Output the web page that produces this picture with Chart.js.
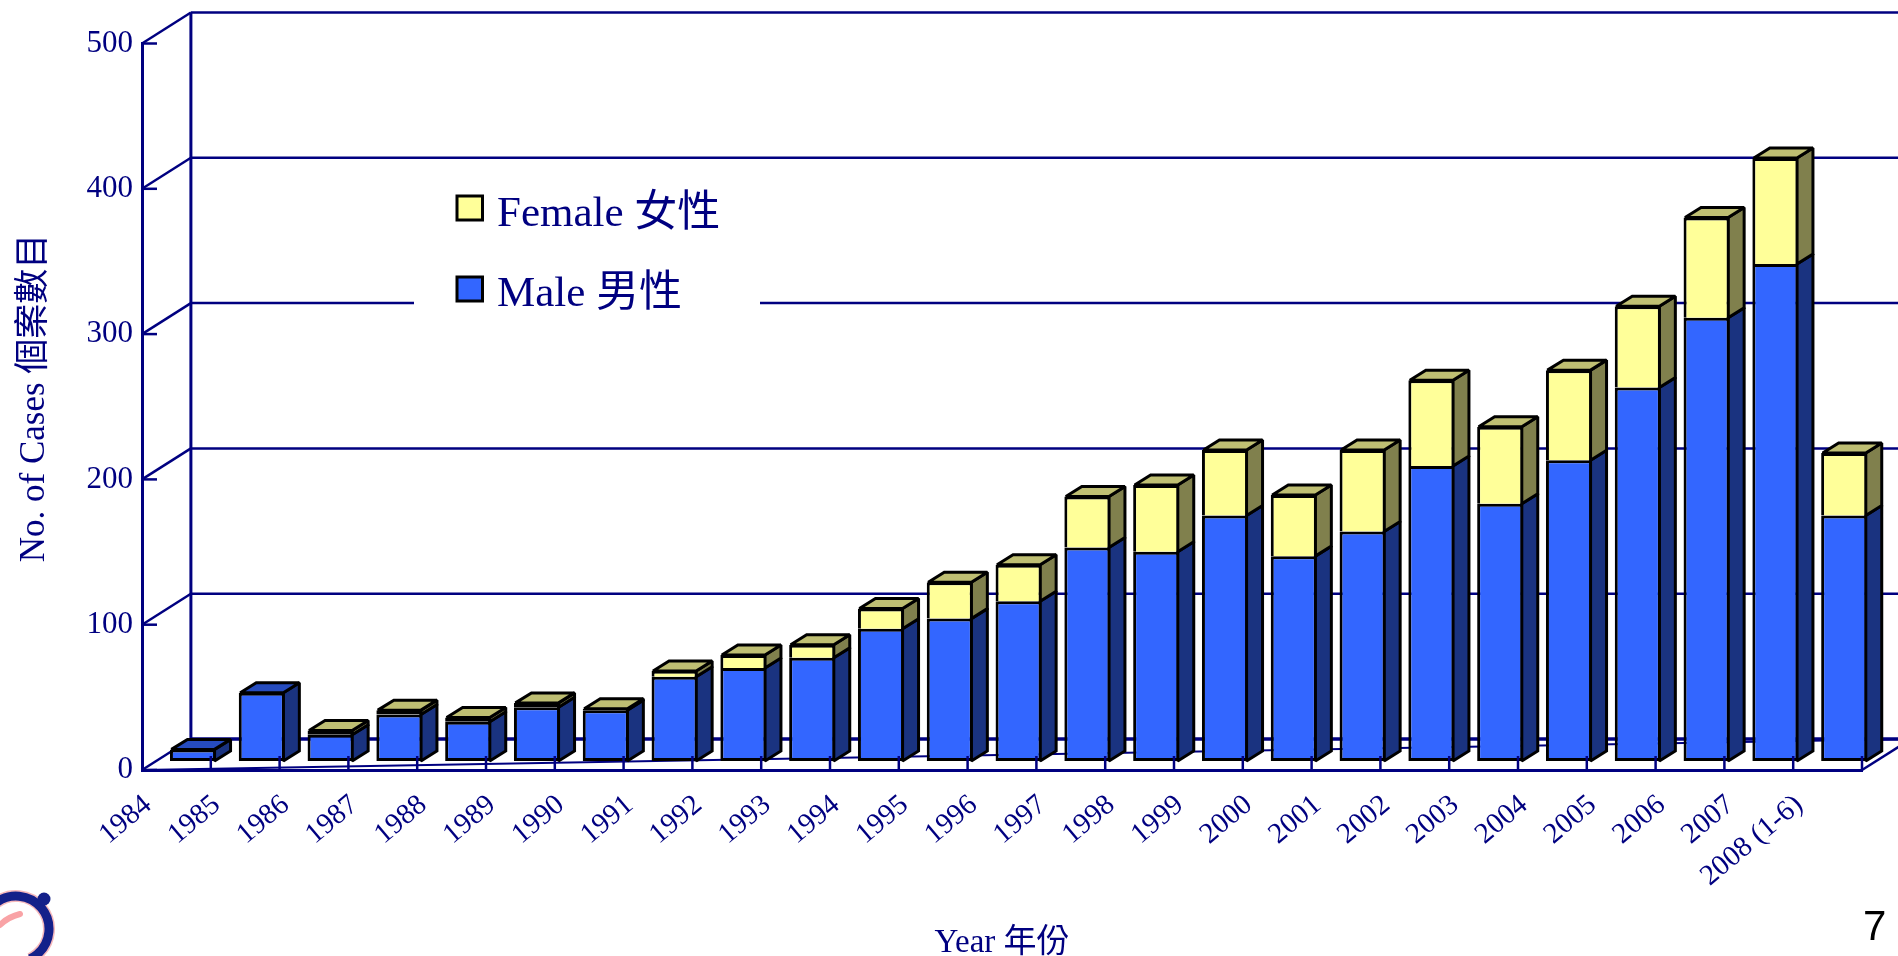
<!DOCTYPE html>
<html>
<head>
<meta charset="utf-8">
<style>html,body{margin:0;padding:0;background:#fff;overflow:hidden}canvas{display:block}</style>
<script src="https://cdn.jsdelivr.net/npm/chart.js@4"></script>
</head>
<body>
<canvas id="c" width="1898" height="956"></canvas>
<script>
const years = ['1984','1985','1986','1987','1988','1989','1990','1991','1992','1993','1994','1995','1996','1997','1998','1999','2000','2001','2002','2003','2004','2005','2006','2007','2008 (1-6)'];
const maleCases = [8,47,18,32,27,37,35,58,64,71,91,98,110,147,144,169,141,158,203,177,207,257,305,342,169];
const femaleCases = [0,0,3,3,3,3,1,4,9,9,14,25,25,35,46,45,42,56,59,53,62,56,69,73,43];
const yMax = 500, yStep = 100;
const NAVY = '#000080';
const SERIF = "'Liberation Serif','Noto Sans CJK TC',serif";
const wall = {dx:48.9, dy:31};
const bar3d = {shiftX:16.6, shiftY:-9, dx:16, dy:10};
const shades = {
  male:{front:'#3366FF', top:'#264CBF', side:'#1A3380'},
  female:{front:'#FFFF99', top:'#BFBF73', side:'#80804D'}
};

function line(ctx,x1,y1,x2,y2,w,col){
  ctx.beginPath();ctx.moveTo(x1,y1);ctx.lineTo(x2,y2);ctx.lineWidth=w;ctx.strokeStyle=col||NAVY;ctx.stroke();
}
function poly(ctx,pts,fill){
  ctx.beginPath();pts.forEach((p,i)=>i?ctx.lineTo(p[0],p[1]):ctx.moveTo(p[0],p[1]));ctx.closePath();
  ctx.fillStyle=fill;ctx.fill();ctx.lineWidth=3;ctx.strokeStyle='#000';ctx.lineJoin='miter';ctx.miterLimit=1.5;ctx.stroke();
}

const depth3d = {
  id:'depth3d',
  beforeDraw(chart){
    const {ctx,chartArea:a,scales:{x,y}} = chart;
    ctx.save();
    const bx=a.left+wall.dx;
    y.ticks.forEach(t=>{
      const py=y.getPixelForValue(t.value);
      line(ctx,a.left,py,bx,py-wall.dy,2.5);
      line(ctx,bx,py-wall.dy,a.right+wall.dx,py-wall.dy,t.value===0?3.5:2.5);
    });
    line(ctx,bx,a.top-wall.dy,bx,a.bottom-wall.dy,3);
    line(ctx,a.left,a.bottom,a.right+wall.dx,a.bottom-wall.dy,2);
    line(ctx,a.right,a.bottom,a.right+wall.dx,a.bottom-wall.dy,2.5);
    ctx.fillStyle='#fff';
    ctx.fillRect(414,170,346,170);
    const entries=[[1,196,226],[0,277,306]];
    entries.forEach(([d,by,base])=>{
      const ds=chart.data.datasets[d];
      ctx.fillStyle=ds.backgroundColor;ctx.strokeStyle='#000';ctx.lineWidth=3;
      ctx.fillRect(457,by,25.5,24);ctx.strokeRect(457,by,25.5,24);
      ctx.fillStyle=NAVY;ctx.font="43px "+SERIF;ctx.textAlign='left';ctx.textBaseline='alphabetic';
      ctx.fillText(ds.label,497,base);
    });
    ctx.restore();
  },
  beforeDatasetsDraw(chart){
    const {ctx} = chart;
    const m=chart.getDatasetMeta(0).data, f=chart.getDatasetMeta(1).data;
    ctx.save();
    ctx.translate(bar3d.shiftX,bar3d.shiftY);
    const {dx,dy}=bar3d;
    m.forEach((mb,i)=>{
      const fb=f[i];
      const R=mb.x+mb.width/2-1.5, L=mb.x-mb.width/2+1.5;
      const sideFace=(t,b,fill)=>poly(ctx,[[R,t],[R+dx,t-dy],[R+dx,b-dy],[R,b]],fill);
      sideFace(mb.y,mb.base,shades.male.side);
      const hasF=femaleCases[i]>0;
      if(hasF) sideFace(fb.y,mb.y,shades.female.side);
      const T=hasF?fb.y:mb.y;
      poly(ctx,[[L,T],[L+dx,T-dy],[R+dx,T-dy],[R,T]],hasF?shades.female.top:shades.male.top);
    });
    ctx.restore();
    ctx.save();
    ctx.translate(bar3d.shiftX,bar3d.shiftY);
  },
  afterDatasetsDraw(chart){
    const {ctx,chartArea:a,scales:{x,y}} = chart;
    ctx.restore();
    ctx.save();
    const step=(x.getPixelForTick(1)-x.getPixelForTick(0));
    years.forEach((_,i)=>{
      const px=x.getPixelForTick(i)+step/2;
      line(ctx,px,a.bottom,px,a.bottom-14,2.5);
    });
    y.ticks.forEach(t=>{
      const py=y.getPixelForValue(t.value);
      line(ctx,a.left,py,a.left+15,py,2.5);
    });
    ctx.restore();
  },
  afterDraw(chart){
    const {ctx}=chart;
    ctx.save();
    ctx.fillStyle='#000';ctx.font="42px 'Liberation Sans',Arial,sans-serif";
    ctx.textAlign='left';ctx.textBaseline='alphabetic';
    ctx.fillText('7',1863,940);
    const ring=(w,c)=>{ctx.beginPath();ctx.arc(16,929,33,-Math.PI*0.72,Math.PI*0.36);ctx.lineWidth=w;ctx.strokeStyle=c;ctx.stroke();};
    ring(12,'#F6B9BC');ring(9,'#14218A');
    ctx.beginPath();ctx.arc(44,899,6.5,0,Math.PI*2);ctx.fillStyle='#14218A';ctx.fill();
    ctx.beginPath();ctx.moveTo(0,925);ctx.quadraticCurveTo(8,917,20,914);
    ctx.lineWidth=6;ctx.lineCap='round';ctx.strokeStyle='#F9A3A6';ctx.stroke();
    ctx.restore();
  }
};

new Chart(document.getElementById('c'),{
  type:'bar',
  plugins:[depth3d],
  data:{labels:years,datasets:[
    {label:'Male 男性',data:maleCases,backgroundColor:shades.male.front,borderColor:'#000',borderWidth:3,borderSkipped:false,clip:false},
    {label:'Female 女性',data:femaleCases,backgroundColor:shades.female.front,borderColor:'#000',borderWidth:3,
      borderSkipped:c=>c.raw<4?false:'bottom',clip:false}
  ]},
  options:{
    responsive:false,animation:false,
    layout:{autoPadding:false,padding:{top:43.5,right:36,bottom:0,left:0}},
    datasets:{bar:{categoryPercentage:1,barPercentage:0.67}},
    plugins:{tooltip:{enabled:false},legend:{display:false}},
    scales:{
      x:{stacked:true,
        afterFit(s){s.height=186;},
        grid:{display:false},
        border:{display:true,color:NAVY,width:3},
        ticks:{autoSkip:false,minRotation:40,maxRotation:40,color:NAVY,padding:10,labelOffset:-28.4,font:{family:SERIF,size:29}},
        title:{display:true,text:'Year 年份',color:NAVY,padding:0,font:{family:SERIF,size:33,lineHeight:0.76}}
      },
      y:{stacked:true,min:0,max:yMax,
        afterFit(s){s.width=142;},
        grid:{display:false},
        border:{display:true,color:NAVY,width:3},
        ticks:{stepSize:yStep,color:NAVY,padding:1,font:{family:SERIF,size:31}},
        title:{display:true,text:'\u00A0\u00A0No. of Cases 個案數目',color:NAVY,padding:{top:17,bottom:0},font:{family:SERIF,size:35,lineHeight:1}}
      }
    }
  }
});
</script>
</body>
</html>
